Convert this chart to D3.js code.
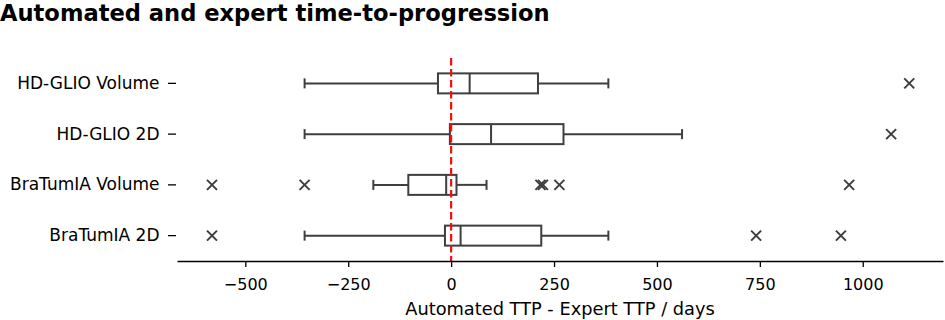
<!DOCTYPE html>
<html>
<head>
<meta charset="utf-8">
<script src="https://cdn.jsdelivr.net/npm/d3@7"></script>
<style>
  body { margin: 0; background: #fff; }
  text { font-family: "DejaVu Sans", sans-serif; }
</style>
</head>
<body>
<div id="chart"></div>
<script>
// Groups, top to bottom
const groups = ["HD-GLIO Volume", "HD-GLIO 2D", "BraTumIA Volume", "BraTumIA 2D"];

// Box stats (days)
const whiskerLow  = [-356, -356, -189, -356];
const q1          = [-32, -3, -104, -15];
const medians     = [45, 97, -12, 23];
const q3          = [211, 273, 13, 219];
const whiskerHigh = [382, 561, 86, 382];

// Outliers per group
const outliers = [
    [1113],
    [1069],
    [-581, -356, 217, 223, 263, 967],
    [-581, 741, 947]
];

const xTicks = [-500, -250, 0, 250, 500, 750, 1000];

const data = groups.map(function (g, i) {
    return {
        name: g,
        lo: whiskerLow[i], q1: q1[i], med: medians[i], q3: q3[i], hi: whiskerHigh[i],
        out: outliers[i]
    };
});

// Dimensions
const W = 945, H = 320;
const margin = { top: 58, right: 2, bottom: 59, left: 177 };
const width = W - margin.left - margin.right;
const height = H - margin.top - margin.bottom;

const svg = d3.select("#chart")
    .append("svg")
    .attr("width", W)
    .attr("height", H);

const g = svg.append("g")
    .attr("transform", `translate(${margin.left},${margin.top})`);

// Scales
const x = d3.scaleLinear()
    .domain([-666, 1195])
    .range([0, width]);

const y = d3.scaleBand()
    .domain(groups)
    .range([0, height]);

const boxH = 20;
const capH = 10;
const ink = "#3f3f3f";

// Boxes
const rows = g.selectAll(".row")
    .data(data)
    .enter()
    .append("g")
    .attr("class", "row")
    .attr("transform", d => `translate(0,${y(d.name) + y.bandwidth() / 2})`);

// Whiskers
rows.append("line")
    .attr("x1", d => x(d.lo)).attr("x2", d => x(d.q1))
    .attr("stroke", ink).attr("stroke-width", 2);
rows.append("line")
    .attr("x1", d => x(d.q3)).attr("x2", d => x(d.hi))
    .attr("stroke", ink).attr("stroke-width", 2);

// Caps
rows.append("line")
    .attr("x1", d => x(d.lo)).attr("x2", d => x(d.lo))
    .attr("y1", -capH / 2).attr("y2", capH / 2)
    .attr("stroke", ink).attr("stroke-width", 2);
rows.append("line")
    .attr("x1", d => x(d.hi)).attr("x2", d => x(d.hi))
    .attr("y1", -capH / 2).attr("y2", capH / 2)
    .attr("stroke", ink).attr("stroke-width", 2);

// Box
rows.append("rect")
    .attr("x", d => x(d.q1))
    .attr("width", d => x(d.q3) - x(d.q1))
    .attr("y", -boxH / 2)
    .attr("height", boxH)
    .attr("fill", "#fff")
    .attr("stroke", ink)
    .attr("stroke-width", 2);

// Median
rows.append("line")
    .attr("x1", d => x(d.med)).attr("x2", d => x(d.med))
    .attr("y1", -boxH / 2).attr("y2", boxH / 2)
    .attr("stroke", ink).attr("stroke-width", 2);

// Outliers as x markers
const s = 5;
rows.selectAll(".out")
    .data(d => d.out)
    .enter()
    .append("path")
    .attr("class", "out")
    .attr("d", v => `M${x(v) - s},${-s}L${x(v) + s},${s}M${x(v) - s},${s}L${x(v) + s},${-s}`)
    .attr("stroke", ink)
    .attr("stroke-width", 2)
    .attr("fill", "none");

// Zero reference line
g.append("line")
    .attr("x1", x(0)).attr("x2", x(0))
    .attr("y1", 0).attr("y2", height)
    .attr("stroke", "#ee1111")
    .attr("stroke-width", 2.2)
    .attr("stroke-dasharray", "7.5,3.5");

// X axis
const xAxis = g.append("g")
    .attr("transform", `translate(0,${height})`)
    .call(d3.axisBottom(x).tickValues(xTicks).tickSize(6).tickSizeOuter(0)
        .tickFormat(d => d < 0 ? "\u2212" + Math.abs(d) : d));
xAxis.select(".domain").attr("stroke", "#000").attr("stroke-width", 1.6);
xAxis.selectAll(".tick line").attr("stroke", "#000").attr("stroke-width", 1.3);
xAxis.selectAll(".tick text")
    .attr("y", 29)
    .attr("dy", 0)
    .attr("font-family", "DejaVu Sans")
    .attr("font-size", 16)
    .attr("fill", "#000");

// Y axis (ticks only, no spine)
const yAxis = g.append("g")
    .call(d3.axisLeft(y).tickSize(8).tickSizeOuter(0));
yAxis.select(".domain").remove();
yAxis.selectAll(".tick line").attr("stroke", "#000").attr("stroke-width", 1.3)
    .attr("x1", -1).attr("x2", -9);
yAxis.selectAll(".tick text")
    .attr("x", -17.5)
    .attr("font-family", "DejaVu Sans")
    .attr("font-size", 17)
    .attr("fill", "#000");

// X axis label
g.append("text")
    .attr("x", width / 2)
    .attr("y", 315 - margin.top)
    .attr("text-anchor", "middle")
    .attr("font-size", 17.8)
    .attr("fill", "#000")
    .text("Automated TTP - Expert TTP / days");

// Title
svg.append("text")
    .attr("x", 0)
    .attr("y", 21)
    .attr("font-size", 22.6)
    .attr("font-weight", "bold")
    .attr("fill", "#000")
    .text("Automated and expert time-to-progression");
</script>
</body>
</html>
